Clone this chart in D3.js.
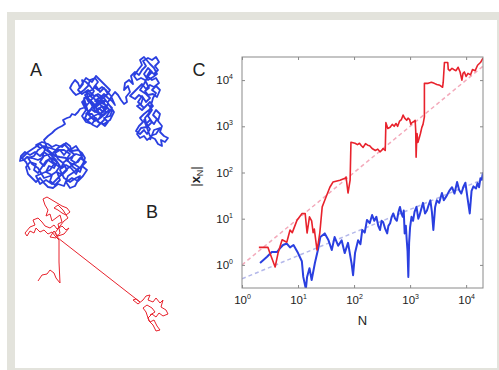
<!DOCTYPE html>
<html>
<head>
<meta charset="utf-8">
<script src="https://cdn.jsdelivr.net/npm/d3@7/dist/d3.min.js"></script>
<style>
body { margin: 0; background: #fff; }
text { font-family: "Liberation Sans", Arial, sans-serif; }
</style>
</head>
<body>
<div id="chart-area"></div>
<script>
// panel A: brownian walk, panel B: levy flight (walk units, y down)
var walkA = [[10,120],[6,112],[2,108],[8,102],[14,98],[20,94],[26,100],[32,104],[38,98],[44,94],[50,100],[56,96],[60,102],[64,112],[60,118],[54,114],[48,118],[44,122],[38,128],[32,134],[26,130],[20,134],[16,126],
  [30,120],[34,114],[28,110],[24,116],[20,112],[24,106],[30,104],[36,110],[40,116],[36,122],[30,126],[24,128],[18,118],[12,114],[8,108],[14,106],[18,100],[24,96],[30,98],[36,100],[44,100],[50,104],[46,110],[52,114],[58,112],[62,106],[56,104],[50,108],[44,112],[40,120],[44,128],[50,132],[56,128],[60,126],
  [55,136],[50,138],[46,132],[52,128],[58,131],[63,126],[67,120],[62,116],[66,112],[60,108],[56,113],[51,110],[54,104],[48,100],[44,105],[40,100],[35,103],[38,109],[43,113],[47,120],[42,125],[37,122],[40,130],[35,135],[30,131],[32,125],[26,122],[29,116],[34,118],[37,112],[31,108],[26,111],[22,117],[18,123],[14,120],[16,114],[10,112],[6,117],[8,124],[12,128],[16,132],[20,128],[24,133],[28,137],[33,138],[38,134],[44,136],[48,126],[54,122],[59,118],[56,124],[51,118],[46,115],[42,118],[38,116],[33,112],[28,105],[24,102],[20,106],[15,102],[10,105],[5,102],[1,106],[0,111],[4,110],[7,107],[12,108],[18,110],[22,108],[26,96],[20,98],[16,95],[22,92],[28,94],[32,97],[36,95],[42,97],[46,93],[50,96],[52,101],[58,100],[62,103],[65,108],[60,122],[53,117],[46,108],[40,107],[35,106],[28,100],[24,90],
  [28,86],[32,83],[35,80],[38,78],[42,76],[45,74],[43,70],[47,68],[50,67],[52,64],[55,65],[58,62],[60,59],[63,58],[66,57],
  [62,52],[66,60],[62,66],[66,72],[72,74],[76,68],[80,74],[84,70],[88,64],[92,58],[88,54],[84,60],[80,64],[76,58],[80,50],[86,46],[90,40],[84,34],[80,30],[76,26],[72,32],[66,28],[62,34],[58,40],[62,44],[68,40],[74,46],[78,44],[84,48],[90,56],[94,62],[90,70],[84,74],[78,72],[72,64],[66,64],
  [70,60],[74,56],[78,60],[82,56],[86,58],[84,52],[78,52],[72,58],[68,64],[72,68],[78,70],[82,64],[76,62],[70,52],[66,42],[72,40],[76,36],[80,42],[84,38],[88,44],[82,46],[76,50],[70,46],[64,48],
  [68,62],[65,68],[69,72],[73,75],[77,77],[81,73],[85,76],[88,72],[84,68],[90,66],[92,61],[87,58],[83,62],[79,58],[75,62],[71,59],[74,54],[70,50],[66,47],[63,51],[67,55],[72,49],[76,45],[80,48],[84,44],[88,48],[92,51],[95,55],[91,46],[86,40],[82,37],[78,40],[74,37],[78,32],[75,28],[70,30],[68,36],[64,40],[60,43],[56,45],[53,42],[50,38],[52,34],[55,30],[58,33],[60,38],[63,34],[62,30],[66,32],[70,36],[74,41],[71,46],[68,43],[65,45],[68,51],[72,54],[77,56],[81,53],[86,55],[89,60],[84,65],[79,69],[75,71],[71,67],[68,70],[74,66],[78,64],[82,66],[86,62],[80,54],[75,51],[82,50],[88,52],[92,46],[95,42],[98,45],[101,50],[104,54],[107,52],
  [106,47],[110,42],[108,36],[104,40],[105,33],[109,30],[113,34],[111,26],[115,22],[119,25],[122,20],[126,16],[123,11],[128,8],[132,10],[136,7],[139,12],[135,16],[138,20],[134,24],[130,21],[127,26],[132,30],[136,28],[139,33],[134,37],[130,35],[126,39],[122,34],[118,38],[114,42],[110,46],[115,49],[119,45],[123,48],[121,54],[117,56],[122,60],[126,56],[130,52],[133,56],[129,60],[124,64],[120,68],[123,72],[119,76],[116,81],[120,84],[124,80],[127,84],[130,79],[126,74],[130,70],[134,74],[137,69],[133,65],[136,60],[140,64],[138,71],[142,76],[140,82],[144,86],[148,88],[145,92],[141,90],[142,96],[138,94],[135,89],[131,87],[127,90],[124,86],[120,88],[117,84],[121,78],[127,77],[125,68],[129,63],[133,48],[136,43],[132,40],[136,36],[140,40],[137,47],[133,44],[128,45],[125,41],[129,38],[125,30],[121,28],[117,30],[114,26],[118,20],[122,15],[120,10],[124,7],[130,14],[134,18],[137,24],[133,27],
  [128,30],[124,24],[128,18],[132,22],[128,26],[124,34],[120,40],[126,44],[130,48],[126,52],[122,46],[118,52],[124,58],[128,54],[132,60],[128,66],[132,72],[128,76],[124,70],[130,86],[136,84],[140,78],[134,80],[130,90]];

var walkB = [[18,231],[22,225],[27,224],[30,220],[34,223],[36,228],[40,233],[39,212],[39,190],
  [35,186],[32,182],[28,184],[24,180],[20,182],[16,178],[14,183],[10,181],[7,186],[5,183],[10,177],[15,175],[13,170],[18,168],[22,172],[25,176],[30,178],[34,175],[37,179],[42,176],[46,180],[49,178],[44,184],[38,186],[34,181],[30,187],[36,188],[40,183],[38,174],[42,172],[40,165],[36,168],[32,171],[30,164],[26,166],[28,160],[25,155],[23,149],[27,147],[32,150],[37,153],[42,156],[47,158],[50,162],[46,165],[42,163],[38,160],[34,158],[38,155],[43,160],[48,168],[44,171],[40,176],[35,183],[38,188],
  [120,252],[116,249],[113,250],[118,254],[123,250],[126,246],[130,245],[128,250],[133,252],[136,248],[140,253],[143,250],[141,257],[146,260],[148,264],[143,266],[139,263],[136,267],[132,264],[128,268],[130,272],[134,270],[137,276],[140,280],[136,281],[133,275],[129,271],[126,262],[123,258],[127,255],[132,258],[135,262],[130,265]];

// panel C: |x_N| vs N
var levyN = [2,2.9,3.1,3.9,4.4,5.2,6.3,7.2,7.9,9.6,11.8,13.4,14.5,16,17.5,18.6,19.5,21.8,23,24.5,27,30,37,42,56,69,72,78,85,
  88,104,115,125,135,145,160,175,190,210,240,265,290,310,330,360,
  370,400,440,480,520,560,600,650,700,750,800,870,920,980,1030,1080,1150,1230,1260,1280,1310,1330,1380,1450,1530,1620,1700,1800,
  1800,2100,2400,2700,3000,3400,3800,3900,4100,4700,4800,5100,5600,6000,6600,7200,7800,8400,8800,9300,10000,10800,12000,13000,14500,16000,18000,20000];
var levyX = [2.4,2.4,1.9,0.9,1.8,3.5,3.1,5.7,5,9.3,13,13,4.9,11,9,5,6,2.1,3,5,18,25,48,62,68,75,80,36,68,
  450,430,400,430,380,350,420,390,380,330,300,320,280,300,330,300,
  1200,900,950,1100,1000,1150,1000,1300,1400,1750,1500,1350,1500,1400,1100,1200,1250,1350,800,215,500,700,450,550,700,950,1100,1600,
  8500,8500,9000,8500,8000,7700,7000,9000,24000,24000,17000,16000,18000,17000,16000,19000,15000,10000,14000,15000,12000,14000,13000,17000,16000,21000,24000,30000];

var brownN = [2.1,2.8,3.4,4.2,4.8,5.4,6.3,7.2,8.3,10,11.7,12.4,13.8,14.5,16,17.5,20,23,25,30,35,40,45,52,60,68,78,90,96,
  104,118,130,140,155,170,190,210,230,250,270,290,310,330,360,390,410,440,470,500,540,580,620,660,700,740,770,800,840,870,900,930,960,
  1000,1060,1130,1200,1300,1400,1480,1600,1700,1850,2000,2150,2300,2450,2600,2800,3000,3300,3700,4000,4400,5000,5600,6200,6900,7500,8200,9000,9700,10500,11600,12500,13500,15000,16000,17000,18000,19000,20000];
var brownX = [1.1,1.5,1.9,1.9,2.3,2.7,2.9,2.4,2.7,1.8,1.2,0.55,0.3,0.55,0.85,0.47,1.1,2.3,4,4.8,3.4,2.1,4,2.6,3.4,1.8,3,1.1,0.6,
  1.8,3.4,2.8,5.7,5,9.4,8,12,9,11,7,5.7,9,8.5,6,4.8,7,8,11,13,10,9,14,18,13,11,15,4.8,7,3.5,2,0.55,3,
  6.6,11,9,14,18,10,12,17,22,13,15,20,25,14,5.7,18,25,22,36,25,30,40,48,35,62,42,35,50,60,30,13,40,50,45,59,48,75,70,100];

var refN = [1, 20000];
var levyRef = [1, 20000];
var brownRef = [0.5, 71];

var xTicks = [1, 10, 100, 1000, 10000];
var yTicks = [1, 10, 100, 1000, 10000];

var red = "#e8222c", blue = "#2a3fe0";

var svg = d3.select("#chart-area")
    .append("svg")
        .attr("width", 499)
        .attr("height", 370);

svg.append("rect")
    .attr("x", 7).attr("y", 12)
    .attr("width", 492).attr("height", 358)
    .attr("fill", "#e3e3dc");
svg.append("rect")
    .attr("x", 15).attr("y", 20)
    .attr("width", 482).attr("height", 348)
    .attr("fill", "#fff");

// walks A and B share one scale
var xw = d3.scaleLinear().domain([0, 150]).range([20, 170]);
var yw = d3.scaleLinear().domain([0, 300]).range([50, 350]);
var walkLine = d3.line()
    .x(d => xw(d[0]))
    .y(d => yw(d[1]));

svg.append("path")
    .attr("d", walkLine(walkA))
    .attr("fill", "none")
    .attr("stroke", blue)
    .attr("stroke-width", 1.8)
    .attr("stroke-linejoin", "round");

svg.append("path")
    .attr("d", walkLine(walkB))
    .attr("fill", "none")
    .attr("stroke", red)
    .attr("stroke-width", 1)
    .attr("stroke-linejoin", "round");

svg.append("text").attr("x", 36).attr("y", 76).attr("text-anchor", "middle")
    .attr("font-size", 18).attr("fill", "#222").text("A");
svg.append("text").attr("x", 152).attr("y", 218).attr("text-anchor", "middle")
    .attr("font-size", 18).attr("fill", "#222").text("B");
svg.append("text").attr("x", 199).attr("y", 76).attr("text-anchor", "middle")
    .attr("font-size", 18).attr("fill", "#222").text("C");

// panel C
var margin = {left: 242, top: 57};
var width = 241, height = 231;

var g = svg.append("g")
    .attr("transform", "translate(" + margin.left + ", " + margin.top + ")");

var x = d3.scaleLog().domain([1, 20000]).range([0, width]);
var y = d3.scaleLog().domain([Math.pow(10, -0.5), Math.pow(10, 4.5)]).range([height, 0]);

g.append("clipPath").attr("id", "clip")
    .append("rect").attr("width", width).attr("height", height);

var plot = g.append("g").attr("clip-path", "url(#clip)");

var line = d3.line()
    .x(d => x(d[0]))
    .y(d => y(d[1]));

plot.append("path")
    .attr("d", line(refN.map((n, i) => [n, levyRef[i]])))
    .attr("fill", "none")
    .attr("stroke", "#f3a9ba")
    .attr("stroke-width", 1.5)
    .attr("stroke-dasharray", "4,3");

plot.append("path")
    .attr("d", line(refN.map((n, i) => [n, brownRef[i]])))
    .attr("fill", "none")
    .attr("stroke", "#b4b8ea")
    .attr("stroke-width", 1.5)
    .attr("stroke-dasharray", "4,3");

plot.append("path")
    .attr("d", line(brownN.map((n, i) => [n, brownX[i]])))
    .attr("fill", "none")
    .attr("stroke", blue)
    .attr("stroke-width", 2)
    .attr("stroke-linejoin", "round");

plot.append("path")
    .attr("d", line(levyN.map((n, i) => [n, levyX[i]])))
    .attr("fill", "none")
    .attr("stroke", red)
    .attr("stroke-width", 1.6)
    .attr("stroke-linejoin", "round");

function powLabels(sel) {
    sel.selectAll(".tick text")
        .text("10")
        .append("tspan")
            .attr("dy", -5)
            .attr("font-size", 7)
            .text(d => Math.round(Math.log10(d)));
}

var xAxis = g.append("g")
    .attr("transform", "translate(0, " + height + ")")
    .call(d3.axisBottom(x).tickValues(xTicks).tickSizeInner(-3).tickSizeOuter(0).tickPadding(8));
xAxis.call(powLabels);

var yAxis = g.append("g")
    .call(d3.axisLeft(y).tickValues(yTicks).tickSizeInner(-3).tickSizeOuter(0).tickPadding(9));
yAxis.call(powLabels);

g.append("g")
    .call(d3.axisTop(x).tickValues(xTicks).tickSizeInner(-3).tickSizeOuter(0).tickFormat(""));
g.append("g")
    .attr("transform", "translate(" + width + ", 0)")
    .call(d3.axisRight(y).tickValues(yTicks).tickSizeInner(-3).tickSizeOuter(0).tickFormat(""));

g.selectAll(".domain").remove();
g.selectAll(".tick line").attr("stroke", "#888");
g.selectAll(".tick text").attr("font-size", 11.5).attr("fill", "#222")
    .attr("font-family", "'Liberation Sans', Arial, sans-serif");

g.append("rect")
    .attr("width", width)
    .attr("height", height)
    .attr("fill", "none")
    .attr("stroke", "#8a8a8a")
    .attr("stroke-width", 1);

g.append("text")
    .attr("x", width / 2)
    .attr("y", height + 37)
    .attr("text-anchor", "middle")
    .attr("font-size", 13)
    .attr("fill", "#222")
    .text("N");

var yLabel = g.append("text")
    .attr("transform", "translate(-42, " + (y(100) + 4) + ") rotate(-90)")
    .attr("text-anchor", "middle")
    .attr("font-size", 13)
    .attr("fill", "#222");
yLabel.append("tspan").text("|");
yLabel.append("tspan").attr("font-weight", "bold").text("x");
yLabel.append("tspan").attr("dy", 3).attr("font-size", 9).text("N");
yLabel.append("tspan").attr("dy", -3).text("|");
</script>
</body>
</html>
